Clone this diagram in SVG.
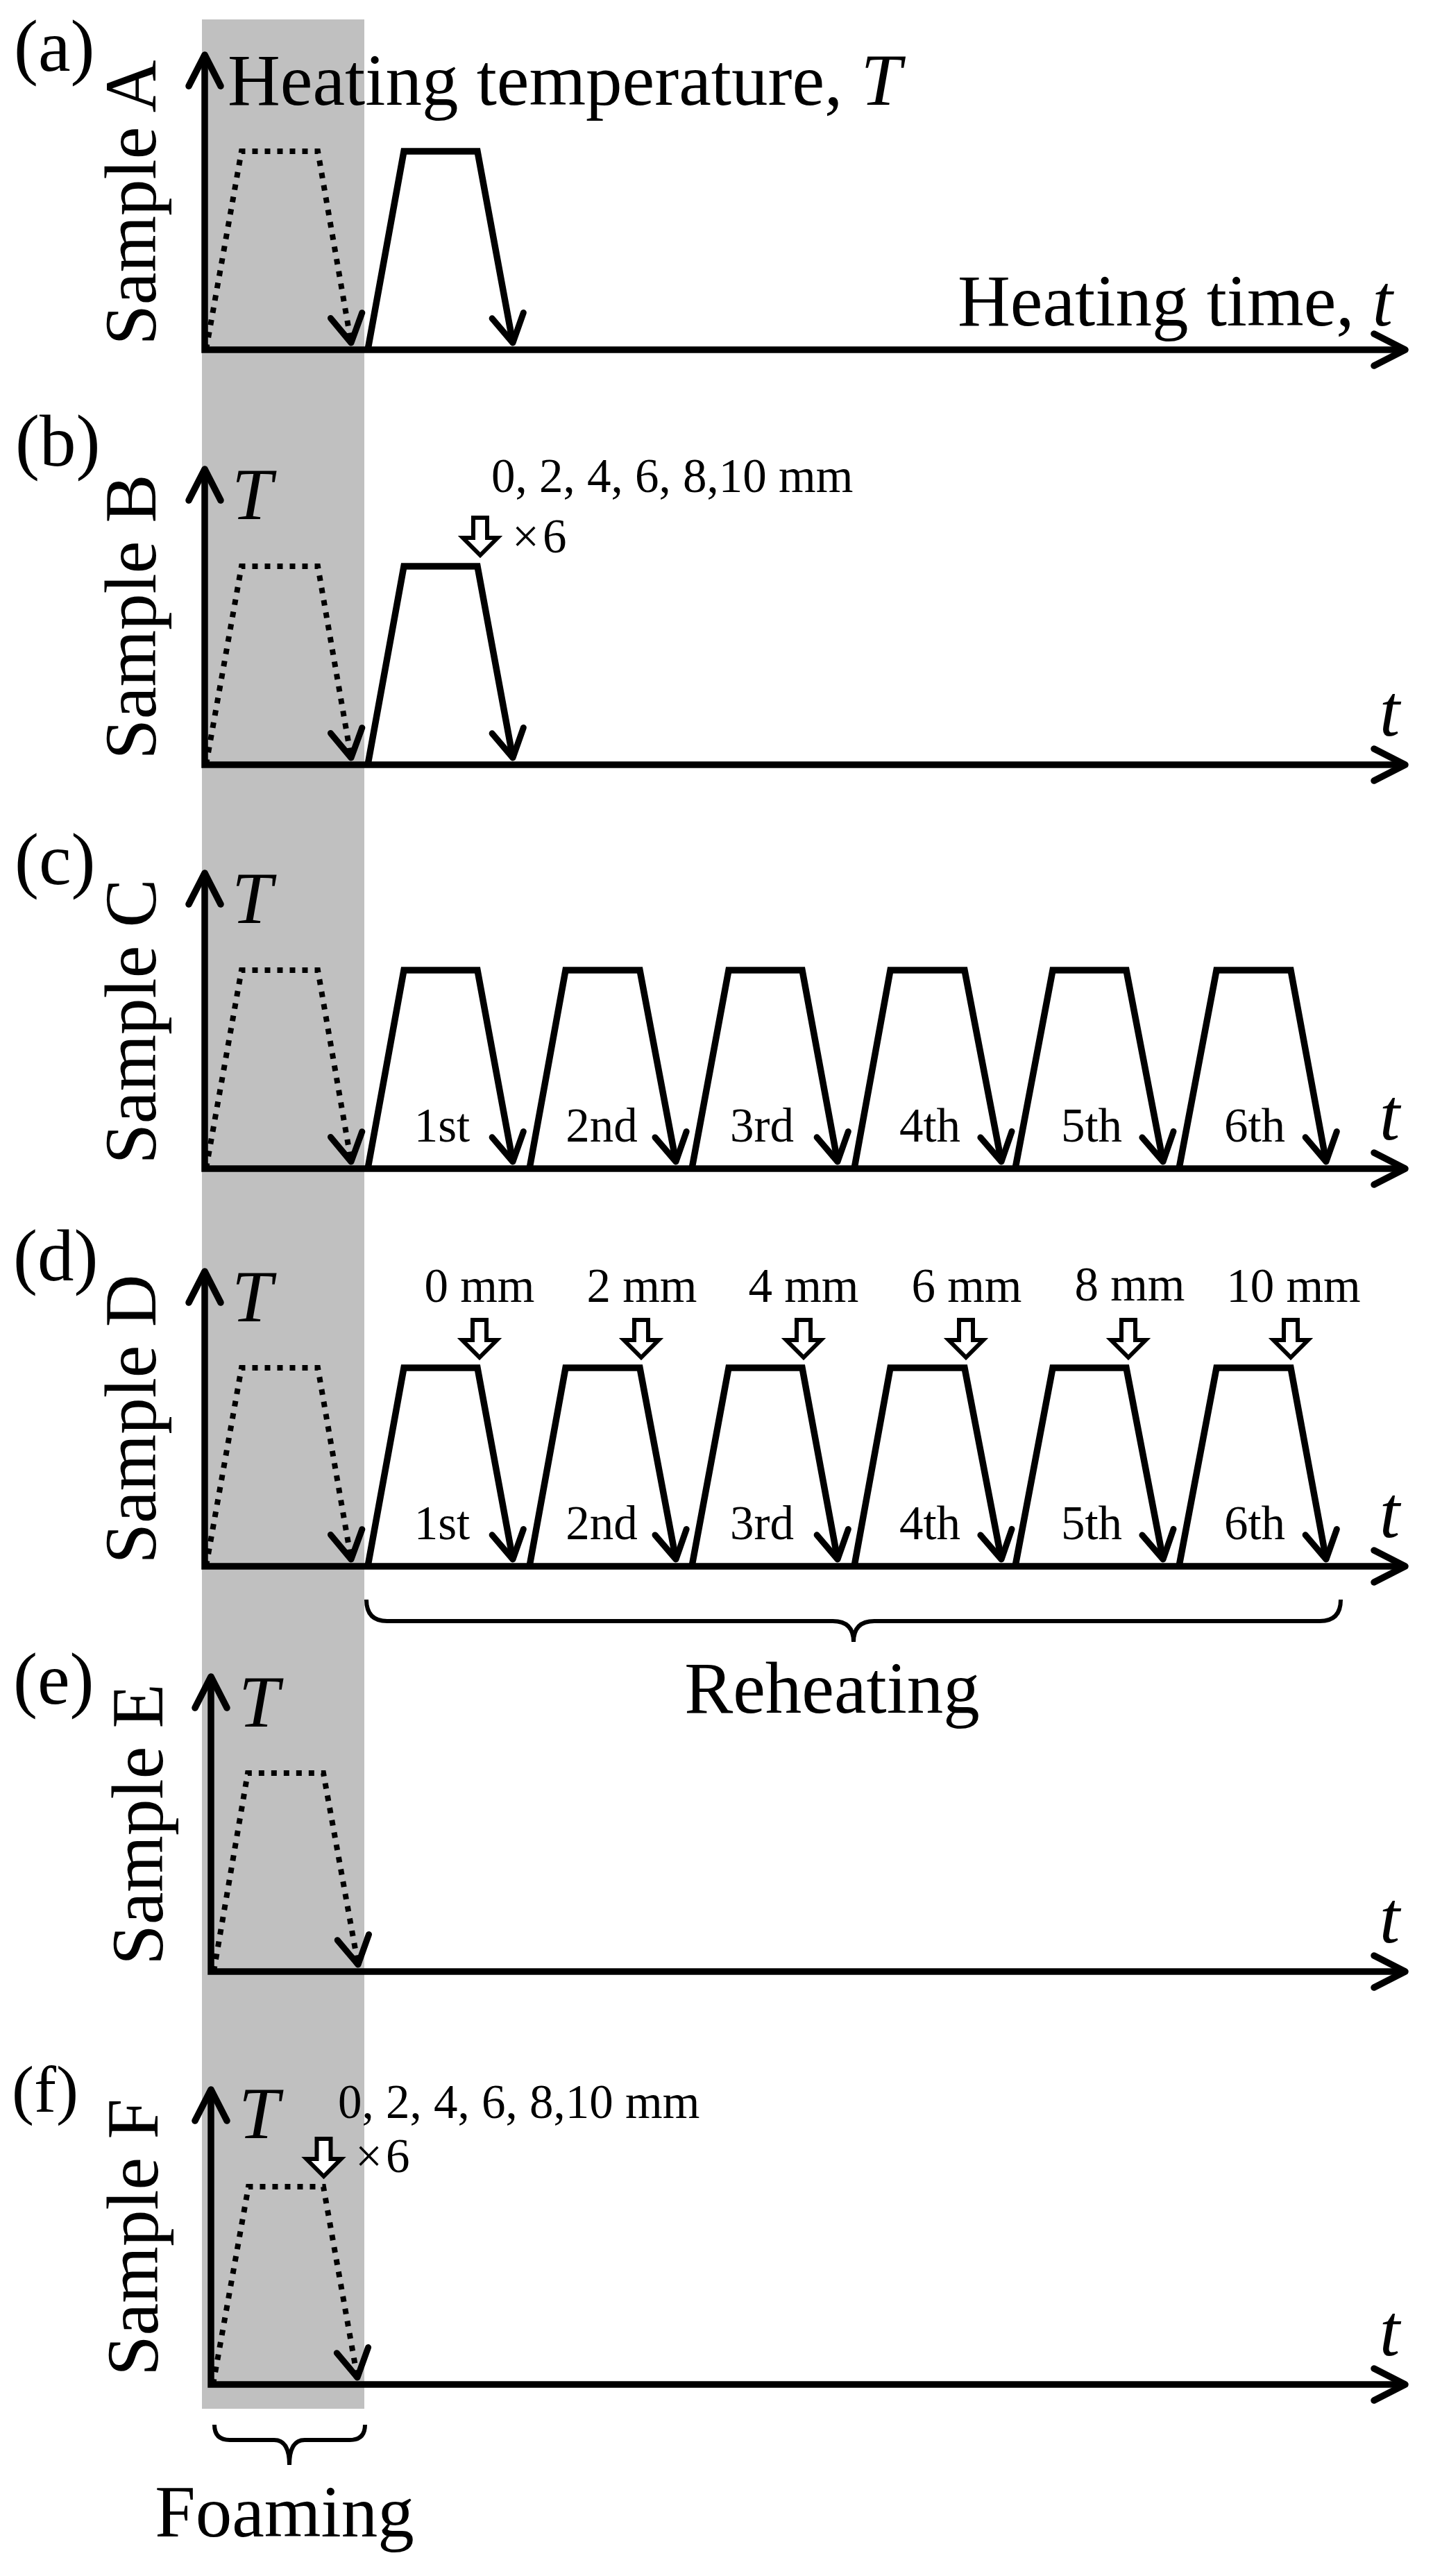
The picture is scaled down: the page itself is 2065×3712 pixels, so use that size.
<svg xmlns="http://www.w3.org/2000/svg" width="2065" height="3712" viewBox="0 0 2065 3712">
<style>
text{font-family:"Liberation Serif","Times New Roman",serif;fill:#000}
.big{font-size:105px}
.sm{font-size:69px}
.it{font-style:italic}
.ax{fill:none;stroke:#000;stroke-width:9.5;stroke-linejoin:miter;marker-start:url(#axh);marker-end:url(#axh)}
.tz{fill:none;stroke:#000;stroke-width:9.5;stroke-linejoin:miter;marker-end:url(#th)}
.dt{fill:none;stroke:#000;stroke-width:8;stroke-dasharray:8 10;stroke-linejoin:miter;marker-end:url(#th)}
.ha{fill:#fff;stroke:#000;stroke-width:6;stroke-linejoin:miter}
.br{fill:none;stroke:#000;stroke-width:6}
</style>
<defs>
<marker id="axh" markerUnits="userSpaceOnUse" orient="auto-start-reverse" markerWidth="1" markerHeight="1" overflow="visible"><path d="M-45,-23 L0,0 L-45,23" fill="none" stroke="#000" stroke-width="9.5" stroke-linecap="round" stroke-linejoin="round"/></marker>
<marker id="th" markerUnits="userSpaceOnUse" orient="auto" markerWidth="1" markerHeight="1" overflow="visible"><path d="M-40,-23 L0,0 L-40,23" fill="none" stroke="#000" stroke-width="9" stroke-linecap="round" stroke-linejoin="round"/></marker>
</defs>
<rect id="foaming-band" x="291" y="28" width="234" height="3443" fill="#c0c0c0"/>
<g id="connectors">
<path class="ax" d="M295,79 V504 H2025"/>
<path class="dt" d="M297,504 L348,218 L458,218 L506,494"/>
<path class="tz" d="M530,504 L582,218 L688,218 L739,494"/>

<path class="ax" d="M295,676 V1102 H2025"/>
<path class="dt" d="M297,1102 L348,816 L458,816 L506,1092"/>
<path class="tz" d="M530,1102 L582,816 L688,816 L739,1092"/>

<path class="ax" d="M295,1258 V1684 H2025"/>
<path class="dt" d="M297,1684 L348,1398 L458,1398 L506,1674"/>
<path class="tz" d="M530,1684 L582,1398 L688,1398 L739,1674"/>
<path class="tz" d="M763,1684 L815,1398 L922,1398 L974,1674"/>
<path class="tz" d="M997,1684 L1050,1398 L1156,1398 L1207,1674"/>
<path class="tz" d="M1231,1684 L1283,1398 L1390,1398 L1443,1674"/>
<path class="tz" d="M1463,1684 L1517,1398 L1623,1398 L1676,1674"/>
<path class="tz" d="M1699,1684 L1753,1398 L1860,1398 L1911,1674"/>

<path class="ax" d="M295,1832 V2257 H2025"/>
<path class="dt" d="M297,2257 L348,1971 L458,1971 L506,2247"/>
<path class="tz" d="M530,2257 L582,1971 L688,1971 L739,2247"/>
<path class="tz" d="M763,2257 L815,1971 L922,1971 L974,2247"/>
<path class="tz" d="M997,2257 L1050,1971 L1156,1971 L1207,2247"/>
<path class="tz" d="M1231,2257 L1283,1971 L1390,1971 L1443,2247"/>
<path class="tz" d="M1463,2257 L1517,1971 L1623,1971 L1676,2247"/>
<path class="tz" d="M1699,2257 L1753,1971 L1860,1971 L1911,2247"/>

<path class="ax" d="M304,2416 V2841 H2025"/>
<path class="dt" d="M308,2841 L357,2555 L466,2555 L516,2831"/>

<path class="ax" d="M304,3011 V3436 H2025"/>
<path class="dt" d="M307,3436 L358,3151 L466,3151 L515,3426"/>

<path class="br" d="M528,2305 Q528,2336 558,2336 L1200,2336 Q1230,2336 1230,2366 Q1230,2336 1260,2336 L1902,2336 Q1932,2336 1932,2305"/>
<path class="br" d="M309,3494 Q309,3516 331,3516 L395,3516 Q417,3516 417,3552 Q417,3516 439,3516 L504,3516 Q526,3516 526,3494"/>
</g>

<g id="panel-a">
<text class="big" x="20" y="102">(a)</text>
<text class="big" transform="translate(224,292) rotate(-90)" text-anchor="middle">Sample A</text>
<text class="big" x="328" y="151">Heating temperature, <tspan class="it">T</tspan></text>
<text class="big" x="1380" y="469">Heating time, <tspan class="it">t</tspan></text>
</g>

<g id="panel-b">
<text class="big" x="22" y="671">(b)</text>
<text class="big" transform="translate(224,889) rotate(-90)" text-anchor="middle">Sample B</text>
<text class="big it" x="334" y="748">T</text>
<text class="big it" x="1988" y="1060">t</text>
<path class="ha" d="M682,746 H702 V775 H717 L692,800 L667,775 H682 Z"/>
<text class="sm" x="708" y="709">0, 2, 4, 6, 8,10 mm</text>
<text class="sm" x="738" y="796">×<tspan dx="5">6</tspan></text>
</g>

<g id="panel-c">
<text class="big" x="21" y="1274">(c)</text>
<text class="big" transform="translate(224,1472) rotate(-90)" text-anchor="middle">Sample C</text>
<text class="big it" x="334" y="1330">T</text>
<text class="big it" x="1988" y="1642">t</text>
<g text-anchor="middle">
<text class="sm" x="637" y="1645">1st</text>
<text class="sm" x="867" y="1645">2nd</text>
<text class="sm" x="1098" y="1645">3rd</text>
<text class="sm" x="1340" y="1645">4th</text>
<text class="sm" x="1573" y="1645">5th</text>
<text class="sm" x="1808" y="1645">6th</text>
</g>
</g>

<g id="panel-d">
<text class="big" x="19" y="1845">(d)</text>
<text class="big" transform="translate(224,2045) rotate(-90)" text-anchor="middle">Sample D</text>
<text class="big it" x="334" y="1904">T</text>
<text class="big it" x="1988" y="2215">t</text>
<g text-anchor="middle">
<text class="sm" x="637" y="2218">1st</text>
<text class="sm" x="867" y="2218">2nd</text>
<text class="sm" x="1098" y="2218">3rd</text>
<text class="sm" x="1340" y="2218">4th</text>
<text class="sm" x="1573" y="2218">5th</text>
<text class="sm" x="1808" y="2218">6th</text>
<text class="sm" x="691" y="1876">0 mm</text>
<text class="sm" x="925" y="1876">2 mm</text>
<text class="sm" x="1158" y="1876">4 mm</text>
<text class="sm" x="1393" y="1876">6 mm</text>
<text class="sm" x="1628" y="1874">8 mm</text>
<text class="sm" x="1864" y="1876">10 mm</text>
</g>
<path class="ha" d="M681,1902 H701 V1931 H716 L691,1956 L666,1931 H681 Z"/>
<path class="ha" d="M914,1902 H934 V1931 H949 L924,1956 L899,1931 H914 Z"/>
<path class="ha" d="M1148,1902 H1168 V1931 H1183 L1158,1956 L1133,1931 H1148 Z"/>
<path class="ha" d="M1382,1902 H1402 V1931 H1417 L1392,1956 L1367,1931 H1382 Z"/>
<path class="ha" d="M1616,1902 H1636 V1931 H1651 L1626,1956 L1601,1931 H1616 Z"/>
<path class="ha" d="M1850,1902 H1870 V1931 H1885 L1860,1956 L1835,1931 H1850 Z"/>
<text class="big" x="1199" y="2468" text-anchor="middle">Reheating</text>
</g>

<g id="panel-e">
<text class="big" x="19" y="2455">(e)</text>
<text class="big" transform="translate(234,2629) rotate(-90)" text-anchor="middle">Sample E</text>
<text class="big it" x="344" y="2488">T</text>
<text class="big it" x="1988" y="2799">t</text>
</g>

<g id="panel-f">
<text x="17" y="3043" style="font-size:96px">(f)</text>
<text class="big" transform="translate(227,3224) rotate(-90)" text-anchor="middle">Sample F</text>
<text class="big it" x="344" y="3081">T</text>
<text class="big it" x="1988" y="3394">t</text>
<path class="ha" d="M456.5,3082 H476.5 V3111 H491.5 L466.5,3136 L441.5,3111 H456.5 Z"/>
<text class="sm" x="487" y="3052">0, 2, 4, 6, 8,10 mm</text>
<text class="sm" x="512" y="3130">×<tspan dx="5">6</tspan></text>
<text class="big" x="410" y="3655" text-anchor="middle">Foaming</text>
</g>
</svg>
